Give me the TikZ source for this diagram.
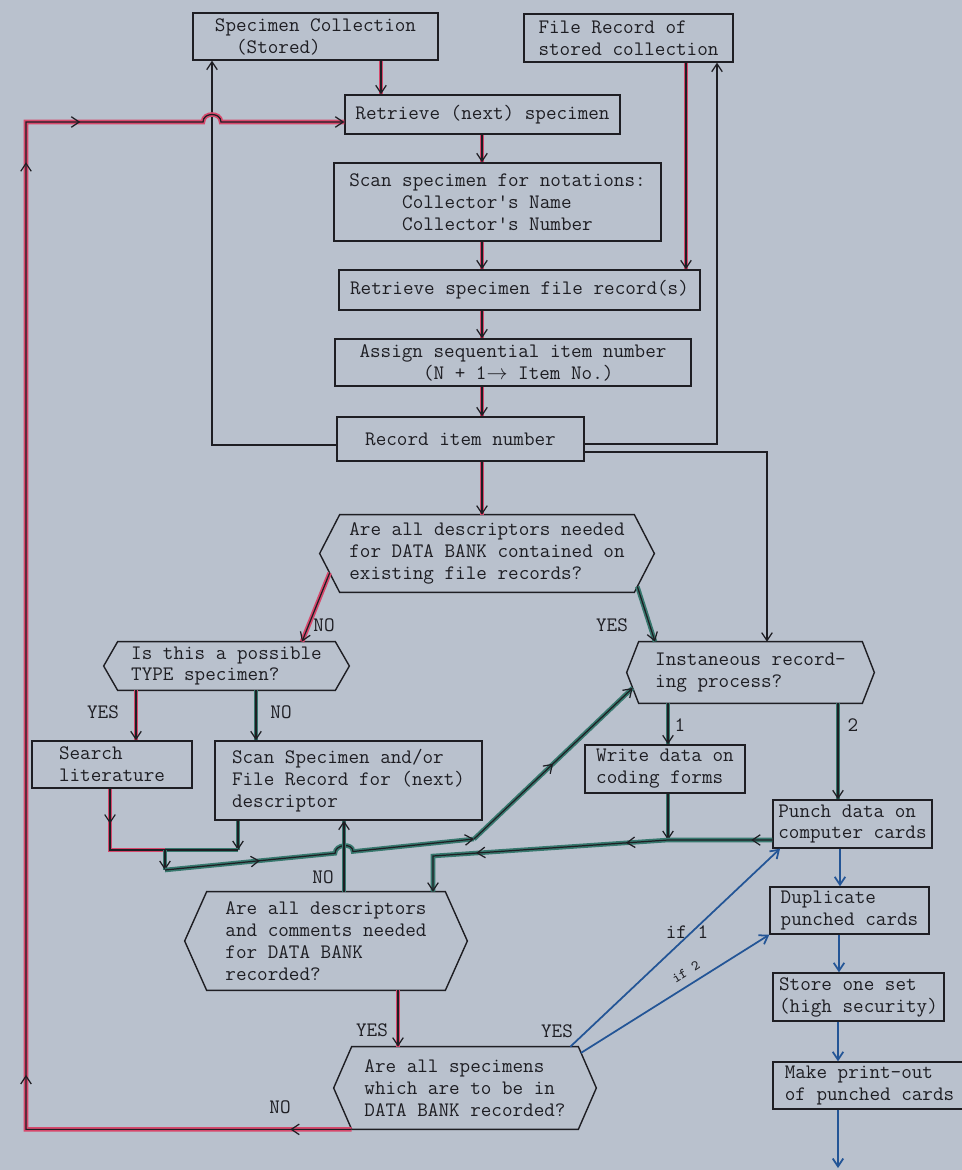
\documentclass[tikz,border=0pt]{standalone}
\usepackage{fontspec}
\usetikzlibrary{arrows.meta,calc,decorations.markings}

\definecolor{paper}{RGB}{185,193,205}
\definecolor{ink}{RGB}{30,30,35}
\definecolor{flowred}{RGB}{215,72,108}
\definecolor{flowgreen}{RGB}{55,120,110}
\definecolor{flowblue}{RGB}{35,85,150}

% hexagonal outline round a decision node
\newcommand{\hexbox}[2]{%
  \coordinate (#1-l) at ([xshift=-#2*0.02cm]#1.west);
  \coordinate (#1-r) at ([xshift=#2*0.02cm]#1.east);
  \draw[ink, line width=0.8pt] (#1.north west) -- (#1.north east) -- (#1-r)
    -- (#1.south east) -- (#1.south west) -- (#1-l) -- cycle;}

\begin{document}
\begin{tikzpicture}[x=0.02cm, y=-0.02cm,
  >={Straight Barb[length=4.5pt,width=6pt]},
  every node/.style={font=\ttfamily\fontsize{11.7}{12.5}\selectfont, text=ink},
  box/.style 2 args={draw=ink, line width=0.8pt, align=left, inner sep=0pt,
    minimum width=#1*0.02cm, minimum height=#2*0.02cm},
  query/.style 2 args={align=left, inner sep=0pt,
    minimum width=#1*0.02cm, minimum height=#2*0.02cm},
  wire/.style={draw=ink, line width=0.7pt},
  arr/.style={wire, ->},
  redline/.style={wire, preaction={draw=flowred, line width=2.6pt, -}},
  greenline/.style={wire, preaction={draw=flowgreen, line width=2.6pt, -}},
  redflow/.style={redline, ->},
  greenflow/.style={greenline, ->},
  blueflow/.style={draw=flowblue, line width=1pt, ->},
  midarr/.style={postaction={decorate, decoration={markings,
    mark=at position #1 with {\arrow{>}}}}},
  lab/.style={inner sep=1pt}]

% Paper
\fill[paper] (0,0) rectangle (962,1170);
\useasboundingbox (0,0) rectangle (962,1170);

% Stored collection and its file record
\node[box={245}{47}] (colln) at (315.5,36.5) {Specimen Collection\\~~(Stored)};
\node[box={209}{48}] (filerec) at (628.5,38) {File Record of\\stored collection};

% Retrieval chain
\node[box={275}{39}] (retrieve) at (482.5,114.5) {Retrieve (next) specimen};
\node[box={327}{78}] (scan) at (497.5,202) {Scan specimen for notations:\\~~~~~Collector's Name\\~~~~~Collector's Number};
\node[box={361}{40}] (retrfile) at (519.5,290) {Retrieve specimen file record(s)};
\node[box={356}{47}] (assign) at (513,362.5) {Assign sequential item number\\~~~~~~(N + 1$\rightarrow$ Item No.)};
\node[box={247}{44}] (record) at (460.5,439) {Record item number};

% Decisions
\node[query={294}{77}] (dec1) at (487,553.5) {Are all descriptors needed\\for DATA BANK contained on\\existing file records?};
\hexbox{dec1}{20}
\node[query={217}{48}] (dec2) at (226.5,666) {Is this a possible\\TYPE specimen?};
\hexbox{dec2}{14}
\node[query={223}{61}] (dec3) at (750.5,672.5) {Instaneous record-\\ing process?};
\hexbox{dec3}{12}

% Descriptor search
\node[box={160}{47}] (search) at (112,764.5) {Search\\literature};
\node[box={267}{79}] (scanspec) at (348.5,780.5) {Scan Specimen and/or\\File Record for (next)\\descriptor};
\node[query={238}{98}] (dec4) at (326,941) {Are all descriptors\\and comments needed\\for DATA BANK\\recorded?};
\hexbox{dec4}{22}
\node[query={226}{82}] (dec5) at (465,1088) {Are all specimens\\which are to be in\\DATA BANK recorded?};
\hexbox{dec5}{18}

% Recording
\node[box={160}{48}] (write) at (665,769) {Write data on\\coding forms};
\node[box={159}{48}] (punch) at (852.5,824) {Punch data on\\computer cards};
\node[box={159}{47}] (dup) at (849.5,910.5) {Duplicate\\punched cards};
\node[box={171}{48}] (store) at (858.5,997) {Store one set\\(high security)};
\node[box={193}{47}] (print) at (869.5,1085.5) {Make print-out\\of punched cards};

% Junctions
\coordinate (jl) at (165,850);
\coordinate (jd) at (165,870);
\coordinate (jn) at (474,839);
\coordinate (jb) at (668,840);
\coordinate (jk) at (433,856);
\coordinate (out) at (838,1168);

% Main chain
\draw[redflow] (381,0 |- colln.south) -- (381,0 |- retrieve.north);
\draw[redflow] (482,0 |- retrieve.south) -- (482,0 |- scan.north);
\draw[redflow] (482,0 |- scan.south) -- (482,0 |- retrfile.north);
\draw[redflow] (686,0 |- filerec.south) -- (686,0 |- retrfile.north);
\draw[redflow] (482,0 |- retrfile.south) -- (482,0 |- assign.north);
\draw[redflow] (482,0 |- assign.south) -- (482,0 |- record.north);
\draw[redflow] (482,0 |- record.south) -- (482,0 |- dec1.north);

% Item number back to the stores and on to recording
\draw[arr] (record.west |- 0,445) -| (212,0 |- colln.south);
\draw[arr] (record.east |- 0,444) -| (717,0 |- filerec.south);
\draw[arr] (record.east |- 0,452) -| (767,0 |- dec3.north);

% Descriptors on file?
\draw[redflow] ($(dec1-l)!0.5!(dec1.south west)$) -- (302,0 |- dec2.north);
\node[lab] (no1) at (324,625) {NO};
\draw[greenflow] ($(dec1-r)!0.85!(dec1.south east)$) -- (655,0 |- dec3.north);
\node[lab] (yes1) at (612,625) {YES};

% TYPE specimen?
\draw[redflow] (136,0 |- dec2.south) -- (136,0 |- search.north);
\node[lab] (yes2) at (103,712) {YES};
\draw[greenflow] (256,0 |- dec2.south) -- (256,0 |- scanspec.north);
\node[lab] (no2) at (281,712) {NO};

% Merge below the search boxes
\draw[redline, midarr=0.3] (110,0 |- search.south) |- (jl);
\draw[greenflow] (238,0 |- scanspec.south) -- (238,0 |- jl);
\draw[greenline] (238,0 |- jl) -- (jl);
\draw[greenflow] (jl) -- (jd);
\draw[greenflow, midarr=0.3] (jd) -- (335,853.3) .. controls (335,844) and (353,842.5) .. (353,851.5) -- (jn);
\draw[greenflow, midarr=0.5] (jn) -- ($(dec3-l)!0.5!(dec3.south west)$);

% Instaneous recording?
\draw[greenflow] (668,0 |- dec3.south) -- (668,0 |- write.north);
\node[lab] (one) at (680,725) {1};
\draw[greenflow] (838,0 |- dec3.south) -- (838,0 |- punch.north);
\node[lab] (two) at (853,725) {2};
\draw[greenflow] (668,0 |- write.south) -- (jb);
\draw[greenflow, midarr=0.056, midarr=0.39, midarr=0.79] (punch.west |- jb) -- (jb) -- (jk) -- (433,0 |- dec4.north);

% All descriptors recorded?
\draw[greenflow] (344,0 |- dec4.north) -- (344,0 |- scanspec.south);
\node[lab] (no3) at (323,877) {NO};
\draw[redflow] (398,0 |- dec4.south) -- (398,0 |- dec5.north);
\node[lab] (yes3) at (372,1030) {YES};

% All specimens recorded?
\draw[redflow, midarr=0.037, midarr=0.229, midarr=0.779, midarr=0.836]
  (dec5.south west) -- (26,0 |- dec5.south west) -- (26,122) -- (203,122)
  .. controls (203,112) and (221,112) .. (221,122) -- (retrieve.west |- 0,122);
\node[lab] (no4) at (280,1107) {NO};
\node[lab] (yes4) at (557,1031) {YES};
\draw[blueflow] ($(dec5.north east)+(-8,0)$) -- (780,0 |- punch.south);
\node[lab] (if1) at (687,932) {if 1};
\draw[blueflow] ($(dec5.north east)!0.15!(dec5-r)$) -- (dup.south west);
\node[lab, rotate=32, font=\ttfamily\fontsize{8}{9}\selectfont] (if2) at (686,972) {if 2};

% Card handling
\draw[blueflow] (840,0 |- punch.south) -- (840,0 |- dup.north);
\draw[blueflow] (839,0 |- dup.south) -- (839,0 |- store.north);
\draw[blueflow] (838,0 |- store.south) -- (838,0 |- print.north);
\draw[blueflow] (838,0 |- print.south) -- (out);
\end{tikzpicture}
\end{document}
